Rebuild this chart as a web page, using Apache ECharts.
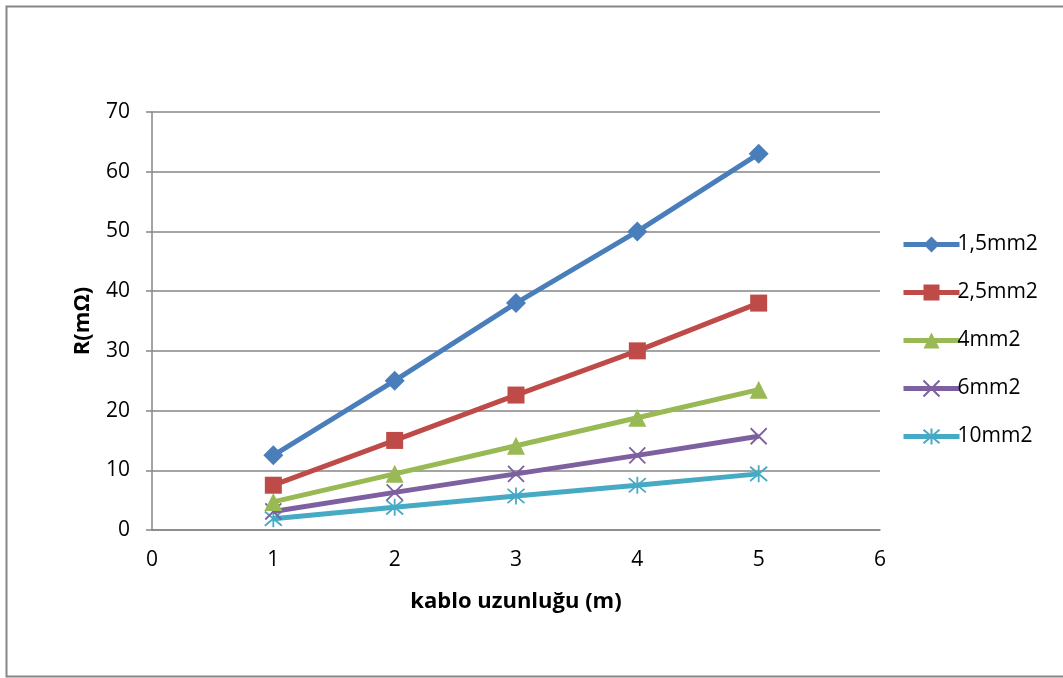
<!DOCTYPE html>
<html>
<head>
<meta charset="utf-8">
<script src="https://cdn.jsdelivr.net/npm/echarts@6/dist/echarts.min.js"></script>
<style>
  html, body { margin: 0; padding: 0; background: #ffffff; }
  #chart { width: 1063px; height: 678px; }
</style>
</head>
<body>
<div id="chart"></div>
<script>
// Cable length (m) and measured resistance per cross-section
const lengths = [1, 2, 3, 4, 5];
const seriesNames = ['1,5mm2', '2,5mm2', '4mm2', '6mm2', '10mm2'];
const r15 = [12.5, 25, 38, 50, 63];
const r25 = [7.5, 15, 22.6, 30, 38];
const r4 = [4.7, 9.4, 14.1, 18.8, 23.5];
const r6 = [3.1, 6.3, 9.4, 12.5, 15.7];
const r10 = [1.9, 3.8, 5.7, 7.5, 9.4];
const xTicks = [0, 1, 2, 3, 4, 5, 6];
const yTicks = [0, 10, 20, 30, 40, 50, 60, 70];

const FONT = '"Open Sans", Lato, "Noto Sans", sans-serif';
const GRID_GRAY = '#868686';

const colors = ['#4A7EBB', '#BE4B48', '#98B954', '#7D60A0', '#46AAC5'];
const crossPath = 'path://M0,0L10,10M10,0L0,10';
const starPath = 'path://M5,0L5,10M0.8,0.8L9.2,9.2M9.2,0.8L0.8,9.2';

const markers = [
  { symbol: 'diamond', size: 20, stroke: false },
  { symbol: 'rect', size: 17, stroke: false },
  { symbol: 'triangle', size: 18, stroke: false },
  { symbol: crossPath, size: 16, stroke: true },
  { symbol: starPath, size: 17, stroke: true }
];

const dataSets = [r15, r25, r4, r6, r10];

const series = dataSets.map((vals, i) => {
  const m = markers[i];
  return {
    name: seriesNames[i],
    type: 'line',
    data: lengths.map((x, k) => [x, vals[k]]),
    symbol: m.symbol,
    symbolSize: m.size,
    showSymbol: true,
    lineStyle: { color: colors[i], width: 5 },
    itemStyle: m.stroke
      ? { color: 'none', borderColor: colors[i], borderWidth: 1.8 }
      : { color: colors[i], borderWidth: 0 },
    emphasis: { disabled: true },
    animation: false,
    z: 10 - i
  };
});

const chart = echarts.init(document.getElementById('chart'), null, { renderer: 'canvas' });

chart.setOption({
  backgroundColor: '#ffffff',
  animation: false,
  textStyle: { fontFamily: FONT },
  graphic: [{
    type: 'rect',
    shape: { x: 6.5, y: 6.5, width: 1070, height: 670 },
    style: { fill: 'none', stroke: GRID_GRAY, lineWidth: 2 },
    silent: true
  }],
  grid: { left: 152, right: 183, top: 112, bottom: 148, containLabel: false },
  xAxis: {
    type: 'value',
    min: xTicks[0],
    max: xTicks[xTicks.length - 1],
    interval: 1,
    name: 'kablo uzunluğu (m)',
    nameLocation: 'middle',
    nameGap: 61,
    nameTextStyle: { fontFamily: FONT, fontSize: 22, fontWeight: 'bold', color: '#000' },
    axisLine: { show: true, lineStyle: { color: GRID_GRAY, width: 1.5 } },
    axisTick: { show: false },
    splitLine: { show: false },
    axisLabel: { fontFamily: FONT, fontSize: 21, color: '#000', margin: 20 }
  },
  yAxis: {
    type: 'value',
    min: yTicks[0],
    max: yTicks[yTicks.length - 1],
    interval: 10,
    name: 'R(mΩ)',
    nameLocation: 'middle',
    nameGap: 58,
    nameRotate: 90,
    nameTextStyle: { fontFamily: FONT, fontSize: 22, fontWeight: 'bold', color: '#000' },
    axisLine: { show: true, lineStyle: { color: GRID_GRAY, width: 1.5 } },
    axisTick: { show: true, inside: false, length: 6, lineStyle: { color: GRID_GRAY, width: 1.5 } },
    splitLine: { show: true, lineStyle: { color: GRID_GRAY, width: 1.5 } },
    axisLabel: { fontFamily: FONT, fontSize: 21, color: '#000', margin: 22 }
  },
  legend: {
    orient: 'vertical',
    left: 896,
    top: 229,
    itemWidth: 56,
    itemHeight: 20,
    itemGap: 27,
    lineStyle: { width: 5 },
    textStyle: { fontFamily: FONT, fontSize: 21, color: '#000', padding: [0, 0, 0, -7] },
    data: seriesNames
  },
  series: series
});
</script>
</body>
</html>
